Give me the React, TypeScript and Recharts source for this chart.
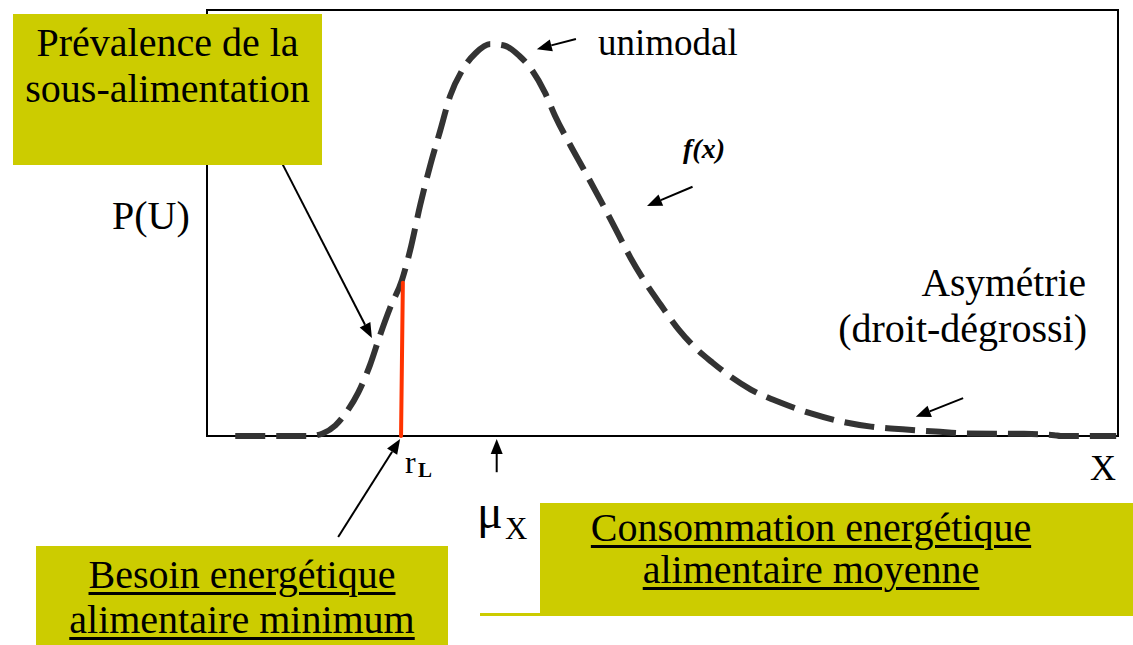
import React from "react";
import { LineChart, Line, XAxis, YAxis, ReferenceArea, ReferenceLine } from "recharts";

// energy intake (x, 0..100) and density f(x) (0..100)
const intake = [
  3.1, 8.0, 11.3, 12.7, 14.1, 15.5, 16.6, 17.9, 19.0, 20.1, 21.4, 22.3, 23.4, 24.5, 25.6,
  26.7, 28.0, 29.5, 31.1, 32.7, 34.3, 35.7, 37.1, 38.2, 39.9, 41.3, 43.2, 44.8, 46.5, 48.1,
  49.8, 51.8, 53.6, 55.5, 57.5, 59.7, 63.0, 66.3, 69.6, 72.9, 76.7, 80.0, 83.3, 89.7, 93.0,
  93.7, 99.8,
];
const density = [
  0, 0, 0, 0.6, 2.5, 6.2, 10.2, 16.7, 23.7, 30.1, 36.6, 43.6, 54.2, 63.5, 71.7,
  79.9, 85.8, 89.9, 92.0, 91.6, 89.2, 85.8, 80.6, 75.2, 68.2, 62.8, 55.3, 48.8, 41.8, 36.1,
  30.8, 24.9, 20.7, 17.2, 13.9, 10.9, 7.8, 5.3, 3.4, 2.2, 1.5, 1.05, 0.6, 0.5, 0.2,
  0, 0,
];

// minimum requirement r_L and mean intake mu_X
const rL = 21.4;
const rLHeight = 36;
const muX = 31.8;

// annotation arrows [fromX, fromY, toX, toY]
const arrows = [
  [7.5, 67.1, 18.1, 23.0],
  [40.5, 93.2, 36.2, 90.8],
  [53.3, 58.5, 48.3, 54.0],
  [83.0, 8.9, 77.8, 4.5],
  [14.4, -23.7, rL - 0.2, -0.7],
  [muX, -8.5, muX, -0.7],
];

const data = intake.map((x, i) => ({ x, f: density[i] }));

const YELLOW = "#cccc00";

function ArrowShape(props: any) {
  const { x1, y1, x2, y2 } = props;
  const a = Math.atan2(y2 - y1, x2 - x1);
  const len = 15;
  const w = 6;
  const bx = x2 - len * Math.cos(a);
  const by = y2 - len * Math.sin(a);
  const px = -Math.sin(a) * w;
  const py = Math.cos(a) * w;
  return (
    <g>
      <line x1={x1} y1={y1} x2={bx} y2={by} stroke="#000" strokeWidth={2} />
      <polygon points={`${x2},${y2} ${bx + px},${by + py} ${bx - px},${by - py}`} fill="#000" />
    </g>
  );
}

function Txt({ x, right, baseline, size, children, style }: any) {
  return (
    <div
      style={{
        position: "absolute",
        left: x,
        right: right !== undefined ? 1133 - right : undefined,
        top: baseline - 0.8375 * size,
        fontSize: size,
        lineHeight: `${size}px`,
        whiteSpace: "nowrap",
        ...style,
      }}
    >
      {children}
    </div>
  );
}

const underline: React.CSSProperties = {
  textDecoration: "underline",
  textDecorationThickness: "3px",
  textUnderlineOffset: "4px",
};

export default function App() {
  return (
    <div
      style={{
        position: "absolute",
        left: 0,
        top: 0,
        width: 1133,
        height: 645,
        background: "#fff",
        color: "#000",
        fontFamily: '"Liberation Serif", "Times New Roman", serif',
        overflow: "hidden",
      }}
    >
      <LineChart width={1133} height={645} data={data} margin={{ top: 10, right: 15, bottom: 209, left: 207 }}>
        <XAxis type="number" dataKey="x" domain={[0, 100]} hide />
        <YAxis type="number" domain={[0, 100]} hide />
        <ReferenceArea x1={0} x2={100} y1={0} y2={100} fill="none" stroke="#000" strokeWidth={2} />
        <Line
          type="monotone"
          dataKey="f"
          stroke="#333333"
          strokeWidth={6}
          strokeDasharray="30 11"
          dot={false}
          isAnimationActive={false}
        />
        <ReferenceLine
          segment={[{ x: rL - 0.1, y: 0 }, { x: rL + 0.1, y: rLHeight }]}
          stroke="#ff3300"
          strokeWidth={4}
          strokeLinecap="round"
        />
        {arrows.map((a, i) => (
          <ReferenceLine
            key={i}
            segment={[{ x: a[0], y: a[1] }, { x: a[2], y: a[3] }]}
            ifOverflow="visible"
            shape={ArrowShape}
          />
        ))}
      </LineChart>

      <Txt x={598} baseline={55} size={37}>unimodal</Txt>
      <Txt x={683} baseline={158} size={28} style={{ fontWeight: "bold", fontStyle: "italic" }}>f(x)</Txt>
      <Txt x={112} baseline={229} size={40}>P(U)</Txt>
      <Txt right={1086} baseline={297} size={39.5}>Asymétrie</Txt>
      <Txt right={1087} baseline={342} size={40}>(droit-dégrossi)</Txt>
      <Txt x={1090} baseline={480} size={36}>X</Txt>
      <Txt x={405} baseline={473} size={32}>r</Txt>
      <Txt x={418} baseline={478} size={21} style={{ fontWeight: "bold" }}>L</Txt>
      <Txt x={477} baseline={528} size={48}>μ</Txt>
      <Txt x={505} baseline={539} size={31}>X</Txt>

      <div
        style={{
          position: "absolute",
          left: 13,
          top: 14,
          width: 309,
          height: 151,
          background: YELLOW,
          textAlign: "center",
          fontSize: 40,
          lineHeight: "46px",
          paddingTop: 6,
          boxSizing: "border-box",
        }}
      >
        <div>Prévalence de la</div>
        <div>sous-alimentation</div>
      </div>

      <div
        style={{
          position: "absolute",
          left: 36,
          top: 546,
          width: 412,
          height: 99,
          background: YELLOW,
          textAlign: "center",
          fontSize: 40,
          lineHeight: "45px",
          paddingTop: 6,
          boxSizing: "border-box",
        }}
      >
        <div><span style={underline}>Besoin energétique</span></div>
        <div><span style={underline}>alimentaire minimum</span></div>
      </div>

      <div style={{ position: "absolute", left: 480, top: 613, width: 60, height: 3, background: YELLOW }} />
      <div
        style={{
          position: "absolute",
          left: 540,
          top: 503,
          width: 593,
          height: 113,
          background: YELLOW,
        }}
      >
        <div
          style={{
            width: 542,
            textAlign: "center",
            fontSize: 40,
            lineHeight: "42px",
            paddingTop: 4,
          }}
        >
          <div><span style={underline}>Consommation energétique</span></div>
          <div><span style={underline}>alimentaire moyenne</span></div>
        </div>
      </div>
    </div>
  );
}
